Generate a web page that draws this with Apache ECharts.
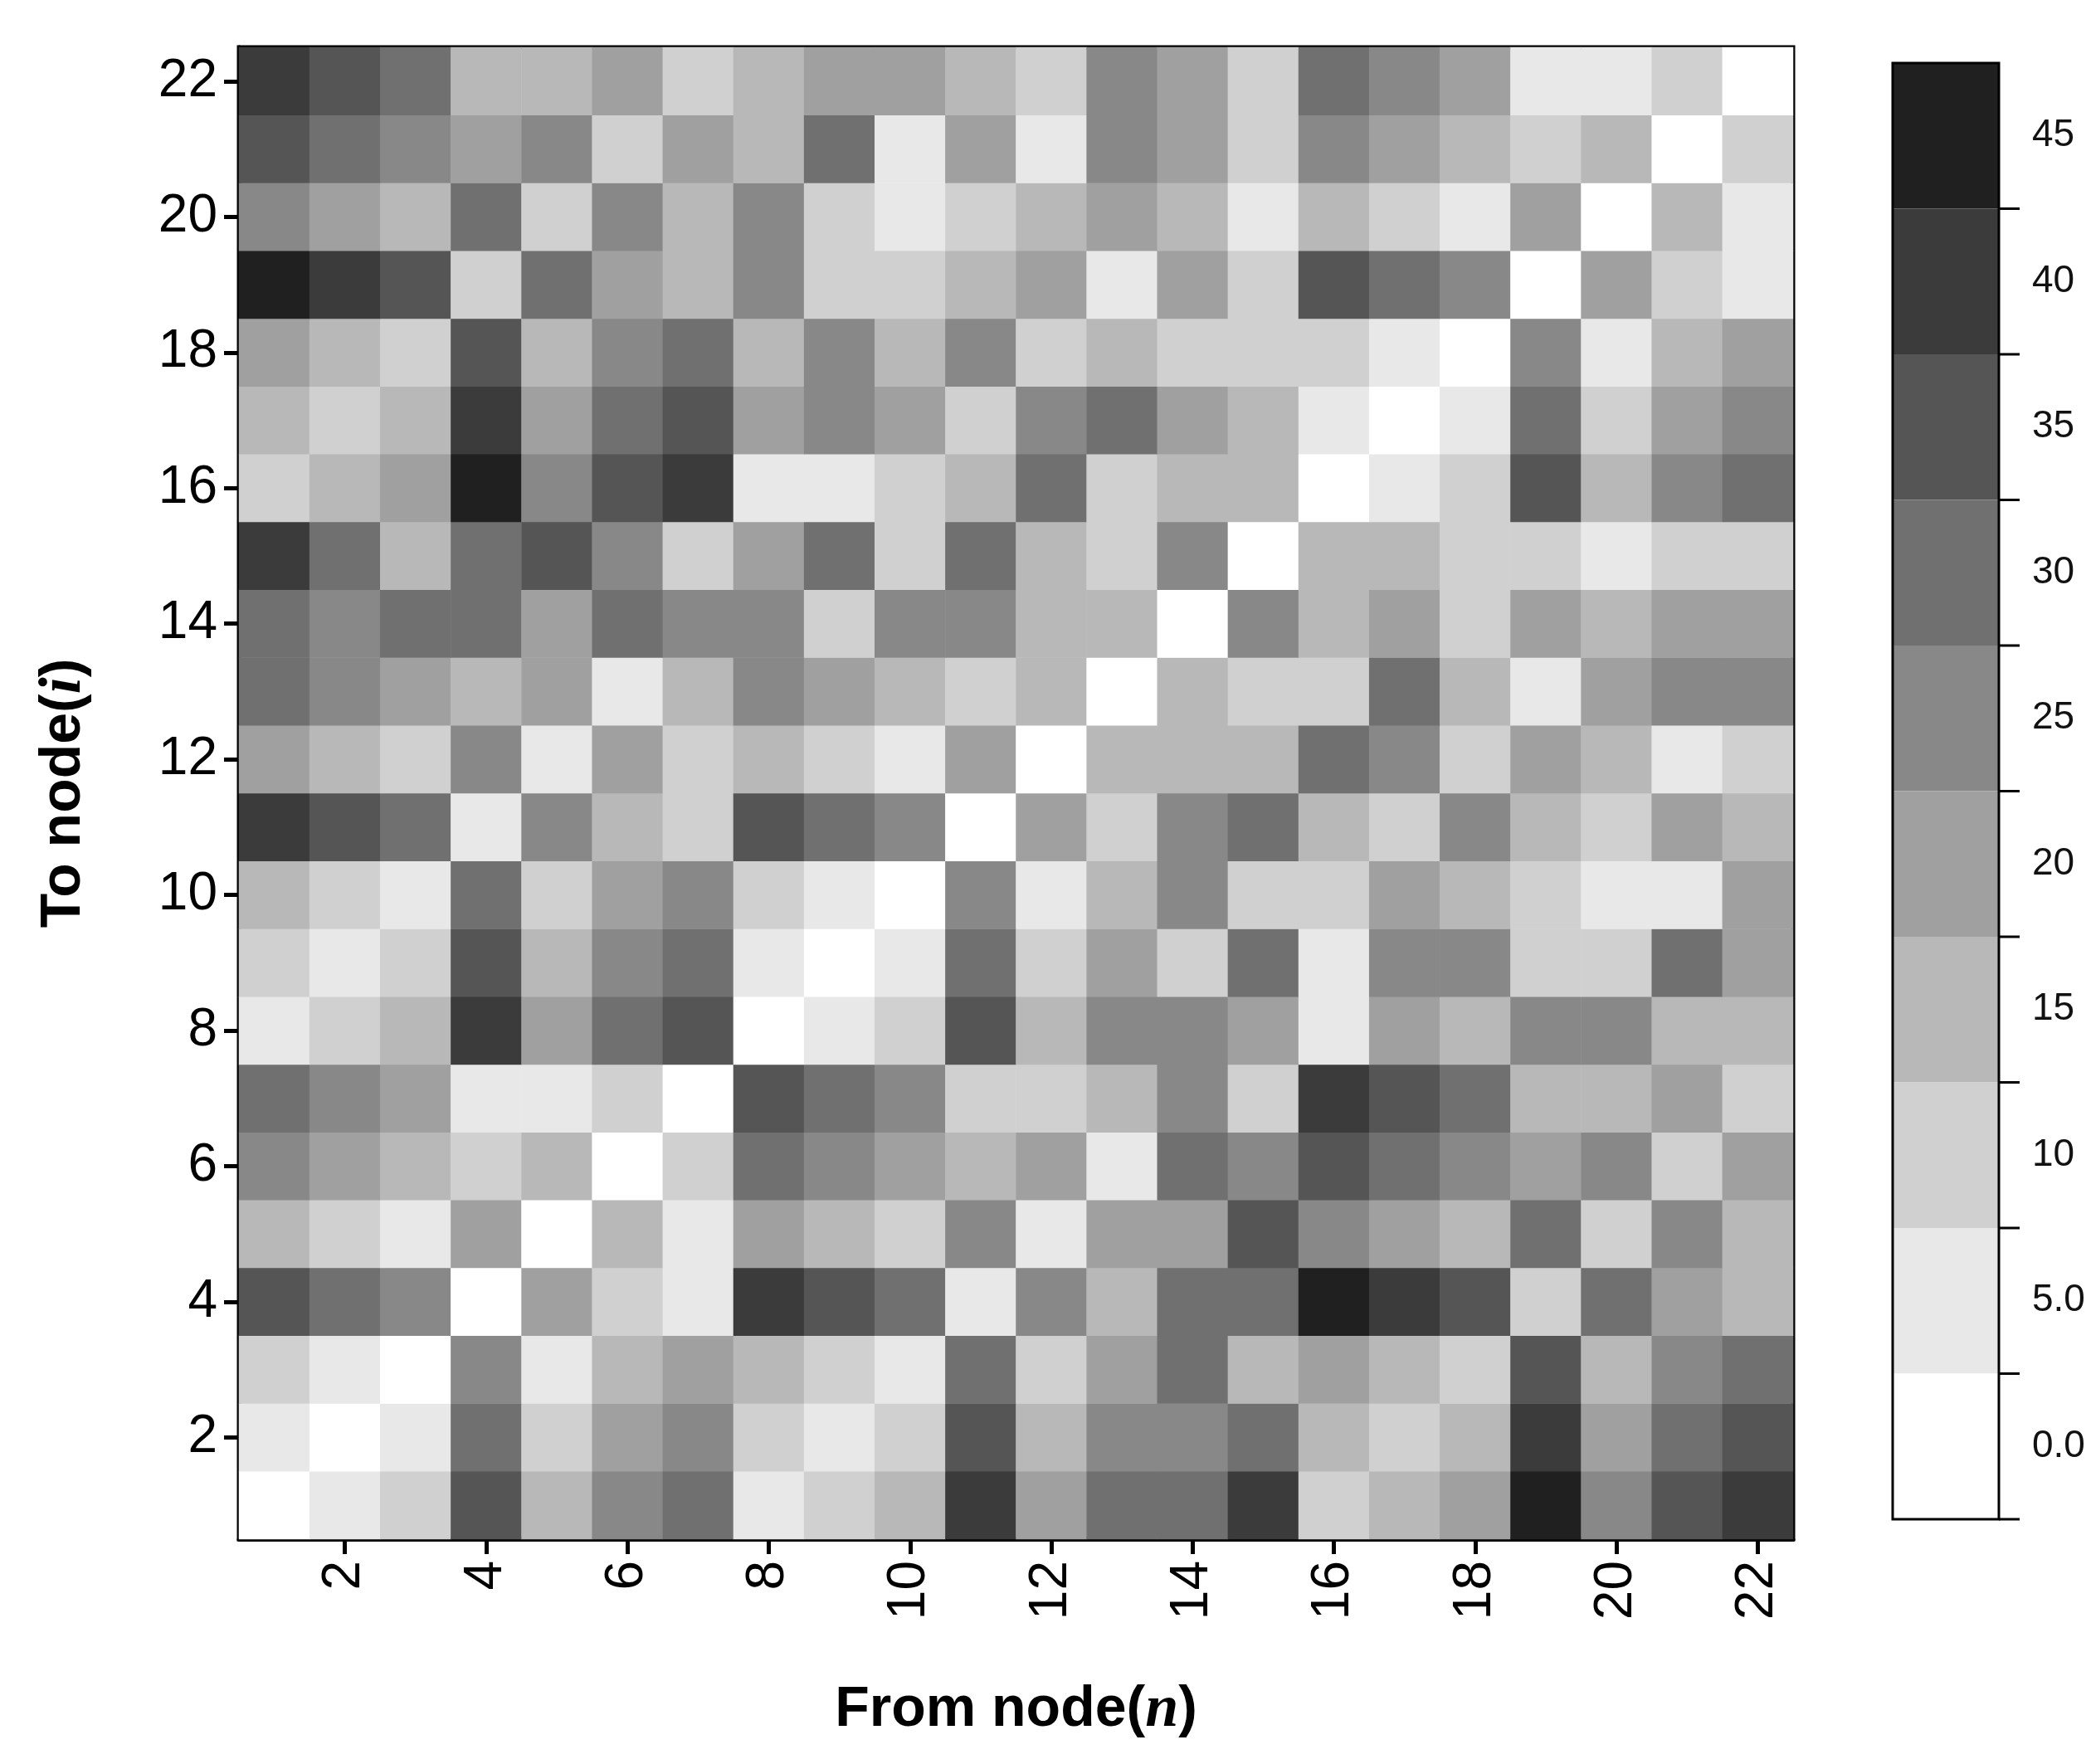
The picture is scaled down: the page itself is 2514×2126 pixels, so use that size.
<!DOCTYPE html>
<html><head><meta charset="utf-8">
<script src="https://cdn.jsdelivr.net/npm/echarts@6/dist/echarts.min.js"></script>
<style>html,body{margin:0;padding:0;background:#fff}#c{width:2514px;height:2126px}</style>
</head><body><div id="c"></div>
<script>
// node labels
const nodes = Array.from({length:22},(_,i)=>String(i+1));
// levels (value/5) per row, rows listed from To node 22 (top) down to 1; columns From node 1..22
const row22=[8,7,6,3,3,4,2,3,4,4,3,2,5,4,2,6,5,4,1,1,2,0];
const row21=[7,6,5,4,5,2,4,3,6,1,4,1,5,4,2,5,4,3,2,3,0,2];
const row20=[5,4,3,6,2,5,3,5,2,1,2,3,4,3,1,3,2,1,4,0,3,1];
const row19=[9,8,7,2,6,4,3,5,2,2,3,4,1,4,2,7,6,5,0,4,2,1];
const row18=[4,3,2,7,3,5,6,3,5,3,5,2,3,2,2,2,1,0,5,1,3,4];
const row17=[3,2,3,8,4,6,7,4,5,4,2,5,6,4,3,1,0,1,6,2,4,5];
const row16=[2,3,4,9,5,7,8,1,1,2,3,6,2,3,3,0,1,2,7,3,5,6];
const row15=[8,6,3,6,7,5,2,4,6,2,6,3,2,5,0,3,3,2,2,1,2,2];
const row14=[6,5,6,6,4,6,5,5,2,5,5,3,3,0,5,3,4,2,4,3,4,4];
const row13=[6,5,4,3,4,1,3,5,4,3,2,3,0,3,2,2,6,3,1,4,5,5];
const row12=[4,3,2,5,1,4,2,3,2,1,4,0,3,3,3,6,5,2,4,3,1,2];
const row11=[8,7,6,1,5,3,2,7,6,5,0,4,2,5,6,3,2,5,3,2,4,3];
const row10=[3,2,1,6,2,4,5,2,1,0,5,1,3,5,2,2,4,3,2,1,1,4];
const row9 =[2,1,2,7,3,5,6,1,0,1,6,2,4,2,6,1,5,5,2,2,6,4];
const row8 =[1,2,3,8,4,6,7,0,1,2,7,3,5,5,4,1,4,3,5,5,3,3];
const row7 =[6,5,4,1,1,2,0,7,6,5,2,2,3,5,2,8,7,6,3,3,4,2];
const row6 =[5,4,3,2,3,0,2,6,5,4,3,4,1,6,5,7,6,5,4,5,2,4];
const row5 =[3,2,1,4,0,3,1,4,3,2,5,1,4,4,7,5,4,3,6,2,5,3];
const row4 =[7,6,5,0,4,2,1,8,7,6,1,5,3,6,6,9,8,7,2,6,4,3];
const row3 =[2,1,0,5,1,3,4,3,2,1,6,2,4,6,3,4,3,2,7,3,5,6];
const row2 =[1,0,1,6,2,4,5,2,1,2,7,3,5,5,6,3,2,3,8,4,6,7];
const row1 =[0,1,2,7,3,5,6,1,2,3,8,4,6,6,8,2,3,4,9,5,7,8];
const rows=[row1,row2,row3,row4,row5,row6,row7,row8,row9,row10,row11,row12,row13,row14,row15,row16,row17,row18,row19,row20,row21,row22];
const barLabels=['45','40','35','30','25','20','15','10','5.0','0.0'];
const barValues=[45,40,35,30,25,20,15,10,5,0];
const grays=['#202020','#3b3b3b','#555555','#707070','#888888','#a0a0a0','#b8b8b8','#d0d0d0','#e8e8e8','#ffffff'];

const data=[];
rows.forEach((r,yi)=>r.forEach((v,xi)=>data.push([xi,yi,v*5])));
const pieces=barValues.map((v,i)=>({gte:v-2.5,lt:v+2.5,label:barLabels[i],color:grays[i]}));

const chart=echarts.init(document.getElementById('c'));
const even=(i)=>i%2===1;
const CB={x:2281,y:76,w:128,h:1755};
chart.setOption({
  animation:false,
  grid:{left:288,top:57,width:1873,height:1798,show:true,borderColor:'#000',borderWidth:5,backgroundColor:'transparent'},
  xAxis:{type:'category',data:nodes,
    axisLine:{show:true,lineStyle:{color:'#000',width:5}},
    axisTick:{show:true,alignWithLabel:true,interval:even,length:18,lineStyle:{color:'#000',width:5}},
    axisLabel:{interval:even,rotate:90,fontSize:64,color:'#000',fontFamily:'Liberation Sans, Arial',margin:26},
    name:'{b|From node(}{i|n}{b|)}',nameLocation:'middle',nameGap:170,
    nameTextStyle:{rich:{b:{fontSize:68,fontWeight:'bold',fontFamily:'Liberation Sans, Arial',color:'#000'},i:{fontSize:72,fontWeight:'bold',fontStyle:'italic',fontFamily:'Liberation Serif, Times New Roman',color:'#000'}}}},
  yAxis:{type:'category',data:nodes,
    axisLine:{show:true,lineStyle:{color:'#000',width:5}},
    axisTick:{show:true,alignWithLabel:true,interval:even,length:18,lineStyle:{color:'#000',width:5}},
    axisLabel:{interval:even,fontSize:64,color:'#000',fontFamily:'Liberation Sans, Arial',margin:26},
    name:'{b|To node(}{i|i}{b|)}',nameLocation:'middle',nameGap:175,
    nameTextStyle:{rich:{b:{fontSize:68,fontWeight:'bold',fontFamily:'Liberation Sans, Arial',color:'#000'},i:{fontSize:72,fontWeight:'bold',fontStyle:'italic',fontFamily:'Liberation Serif, Times New Roman',color:'#000'}}}},
  visualMap:{type:'piecewise',pieces:pieces,orient:'vertical',align:'left',left:CB.x,top:CB.y,padding:0,
    itemWidth:CB.w,itemHeight:CB.h/10,itemGap:0,itemSymbol:'rect',textGap:40,
    textStyle:{fontSize:46,color:'#111',fontFamily:'Liberation Sans, Arial'},selectedMode:false,showLabel:true},
  graphic:[{type:'rect',shape:{x:CB.x,y:CB.y,width:CB.w,height:CB.h},style:{fill:'none',stroke:'#000',lineWidth:3},z:100},
    ...[1,2,3,4,5,6,7,8,9,10].map(k=>({type:'line',shape:{x1:CB.x+CB.w,y1:CB.y+k*CB.h/10,x2:CB.x+CB.w+25,y2:CB.y+k*CB.h/10},style:{stroke:'#000',lineWidth:3},z:100}))],
  series:[{type:'heatmap',data:data,itemStyle:{borderWidth:0}}]
});
</script></body></html>
